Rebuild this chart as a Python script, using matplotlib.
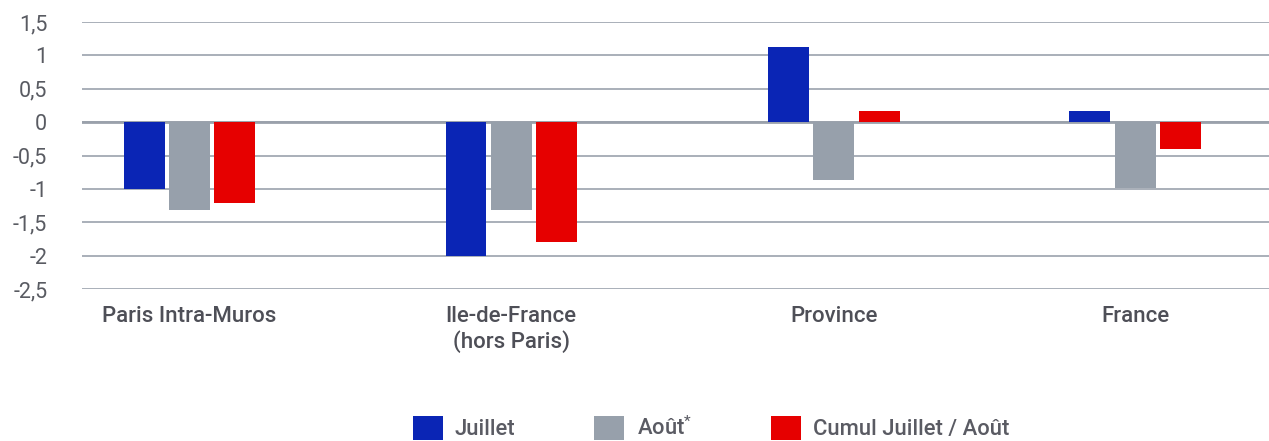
import numpy as np
import matplotlib
matplotlib.use("Agg")
import matplotlib.pyplot as plt
from matplotlib.patches import Patch

plt.rcParams['font.family'] = ['Roboto', 'DejaVu Sans']
plt.rcParams['mathtext.fontset'] = 'custom'
plt.rcParams['mathtext.rm'] = 'Roboto'
plt.rcParams['mathtext.it'] = 'Roboto'
plt.rcParams['mathtext.bf'] = 'Roboto'

categories = ["Paris Intra-Muros", "Ile-de-France\n(hors Paris)", "Province", "France"]
juillet = [-1.0, -2.0, 1.13, 0.165]
aout = [-1.31, -1.32, -0.87, -0.98]
cumul = [-1.21, -1.8, 0.165, -0.4]
series_names = ["Juillet", "Août$^{*}$", "Cumul Juillet / Août"]
yticks = [1.5, 1, 0.5, 0, -0.5, -1, -1.5, -2, -2.5]
ytick_labels = ["1,5", "1", "0,5", "0", "-0,5", "-1", "-1,5", "-2", "-2,5"]

colors = ["#0a25b5", "#97a0ab", "#e60000"]
W = 0.13
STEP = 0.143
# group centres (slightly uneven in the original layout)
x = np.array([0.0, 1.021, 2.045, 3.0])

fig = plt.figure(figsize=(12.69, 4.41), dpi=100)
ax = fig.add_axes([82/1269, 1 - 289/441, 1 - 82/1269, 267/441])

for i, vals in enumerate([juillet, aout, cumul]):
    ax.bar(x + (i - 1) * STEP, vals, width=W, color=colors[i], zorder=3)

ax.set_ylim(-2.5, 1.5)
ax.set_xlim(-0.34, 3.425)
ax.set_yticks(yticks)
ax.set_yticklabels(ytick_labels, fontsize=15.5, color="#595b62")
ax.set_xticks(x)
ax.set_xticklabels(categories, fontsize=16, color="#4e4f57", fontweight="medium", linespacing=1.2)
ax.tick_params(axis='y', length=0, pad=25)
ax.tick_params(axis='x', length=0, pad=12)
ax.set_axisbelow(True)
ax.grid(axis='y', color="#a3a9b3", linewidth=1.3, zorder=0)
ax.axhline(0, color="#9aa1ab", linewidth=2.0, zorder=2)
for s in ax.spines.values():
    s.set_visible(False)

handles = [Patch(facecolor=c, edgecolor='none') for c in colors]
fig.legend(handles, series_names, loc='center', bbox_to_anchor=(711/1269, 13/441),
           ncol=3, frameon=False, handlelength=1.37, handleheight=1.37,
           handletextpad=0.55, columnspacing=3.6,
           prop={'size': 15.8, 'weight': 'medium'}, labelcolor="#5a5b63")

plt.savefig("out.png", dpi=100)
